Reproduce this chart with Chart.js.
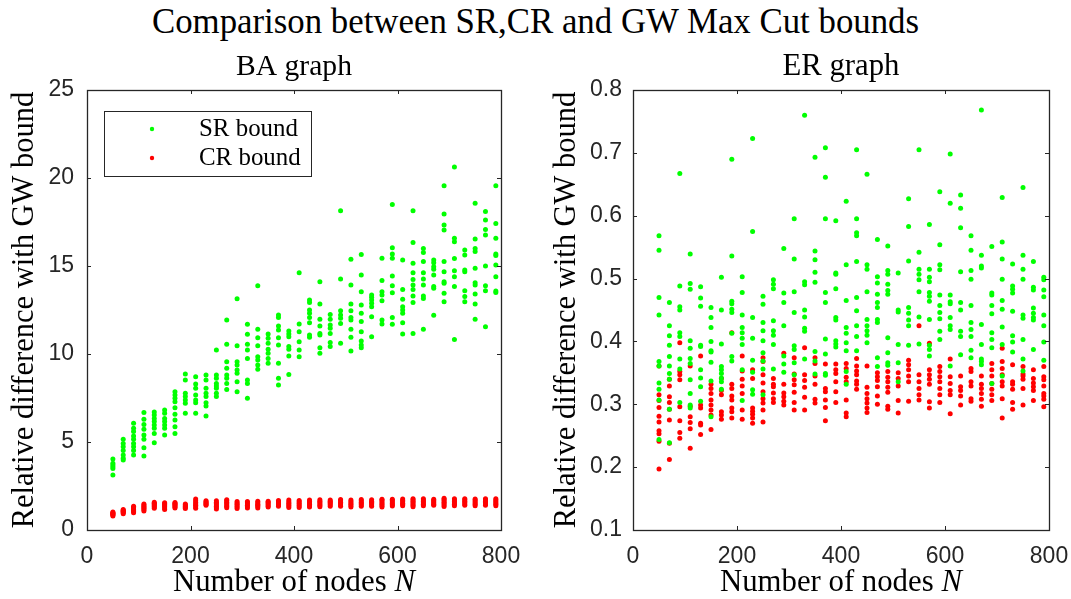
<!DOCTYPE html>
<html>
<head>
<meta charset="utf-8">
<script src="https://cdn.jsdelivr.net/npm/chart.js@4.4.1/dist/chart.umd.min.js"></script>
<style>
  body { margin: 0; background: #fff; width: 1071px; height: 599px; overflow: hidden; position: relative; }
  #titulo { position: absolute; left: 0; top: 0; width: 1071px; height: 44px; line-height: 44px; text-align: center; color: #000; white-space: nowrap; }
  canvas { position: absolute; top: 0; }
</style>
</head>
<body>
<div id="titulo">Comparison between SR,CR and GW Max Cut bounds</div>
<canvas id="ba" width="540" height="599" style="left:0px"></canvas>
<canvas id="er" width="531" height="599" style="left:540px"></canvas>
<script>
// Número de nodos N (una columna de puntos por cada valor)
const nodos = [50, 70, 90, 110, 130, 150, 170, 190, 210, 230, 250, 270, 290, 310, 330, 350, 370, 390, 410,
  430, 450, 470, 490, 510, 530, 550, 570, 590, 610, 630, 650, 670, 690, 710, 730, 750, 770, 790];

const ticksN = [0, 200, 400, 600, 800];
const ticksBA = [0, 5, 10, 15, 20, 25];
const ticksER = [0.1, 0.2, 0.3, 0.4, 0.5, 0.6, 0.7, 0.8];

// BA graph - SR bound
const baSR = [
  [4.03, 3.79, 3.70, 3.60, 3.50, 3.12],
  [5.15, 4.92, 4.73, 4.51, 4.26, 4.07, 3.98],
  [6.06, 5.78, 5.59, 5.34, 5.15, 4.92, 4.73, 4.51, 4.26],
  [6.67, 6.29, 6.00, 5.72, 5.40, 5.15, 4.68, 4.20],
  [6.70, 6.53, 6.34, 6.16, 5.97, 5.78, 5.49, 4.96],
  [6.82, 6.63, 6.34, 6.16, 5.97, 5.78, 5.40],
  [7.86, 7.67, 7.48, 7.29, 6.95, 6.57, 6.25, 5.87, 5.49],
  [8.86, 8.52, 7.77, 7.58, 7.39, 7.20, 6.63],
  [8.71, 8.30, 8.05, 7.67, 7.39, 7.23, 6.63],
  [8.81, 8.52, 8.05, 7.77, 7.58, 7.23, 7.05, 6.48],
  [10.23, 8.81, 8.62, 8.33, 8.18, 8.05, 7.77, 7.58],
  [11.93, 10.55, 9.56, 9.19, 8.81, 8.62, 8.33, 7.99],
  [13.14, 10.47, 9.56, 9.38, 9.09, 8.90, 8.43, 7.86],
  [11.69, 11.12, 10.55, 10.23, 9.75, 8.52, 8.33, 7.48],
  [13.88, 11.40, 10.93, 10.47, 9.85, 9.66, 9.38, 9.13],
  [11.14, 10.89, 10.61, 10.27, 10.04, 9.75, 9.47],
  [12.22, 12.08, 11.59, 11.36, 10.93, 10.51, 9.47, 8.62, 8.24],
  [11.31, 11.14, 10.98, 10.42, 10.27, 9.89, 8.84],
  [14.62, 11.70, 11.27, 10.70, 10.23, 9.85],
  [13.07, 12.92, 12.50, 12.31, 12.08, 11.78, 11.08, 10.95],
  [14.11, 12.84, 11.97, 11.59, 11.17, 11.08, 10.36, 10.04],
  [12.25, 11.97, 11.65, 11.46, 11.17, 10.66, 10.42],
  [18.14, 14.26, 12.46, 12.22, 12.03, 11.74, 10.61],
  [15.38, 13.92, 12.84, 12.46, 12.08, 11.93, 11.40, 10.95, 10.17],
  [15.66, 14.49, 13.54, 12.78, 12.31, 11.84, 11.27, 10.74, 10.51, 10.36],
  [13.35, 13.22, 13.07, 12.88, 12.69, 12.12, 10.98],
  [15.44, 14.17, 13.54, 13.35, 13.03, 11.93, 11.70],
  [18.50, 16.04, 15.68, 15.44, 14.43, 13.88, 13.48, 12.08, 11.69],
  [15.34, 13.67, 13.11, 12.69, 12.50, 12.31, 11.78, 11.14],
  [18.14, 16.34, 15.15, 14.62, 14.24, 13.92, 13.67, 13.30, 12.92, 11.17],
  [16.00, 15.76, 15.25, 14.62, 14.26, 13.92, 13.30, 13.16, 11.40],
  [15.34, 15.19, 14.96, 14.81, 14.49, 13.83, 13.73, 12.20],
  [19.56, 17.95, 17.33, 17.05, 15.25, 14.68, 14.11, 14.02, 13.45, 12.97],
  [20.63, 16.57, 16.38, 15.42, 14.73, 14.39, 13.83, 10.83],
  [15.91, 15.63, 14.77, 14.68, 13.60, 13.26, 12.97],
  [18.56, 16.53, 16.00, 15.83, 14.87, 14.05, 13.92, 13.41, 12.84, 11.97],
  [18.09, 17.61, 17.08, 16.76, 15.00, 13.88, 13.60, 11.55],
  [19.56, 17.42, 16.57, 15.68, 15.59, 15.06, 14.39, 13.58, 13.50]
];

// BA graph - CR bound
const baCR = [
  [0.80, 0.85, 0.88, 0.92, 0.95, 0.98, 1.02],
  [0.93, 0.98, 1.02, 1.05, 1.08, 1.12, 1.16],
  [0.98, 1.05, 1.10, 1.15, 1.20, 1.28, 1.35],
  [1.08, 1.15, 1.22, 1.28, 1.35, 1.42, 1.48],
  [1.23, 1.30, 1.36, 1.42, 1.48, 1.52, 1.57],
  [1.17, 1.25, 1.32, 1.38, 1.45, 1.50, 1.55],
  [1.25, 1.30, 1.36, 1.42, 1.47, 1.52, 1.56],
  [1.22, 1.28, 1.33, 1.38, 1.43, 1.48],
  [1.23, 1.32, 1.40, 1.48, 1.56, 1.66, 1.76],
  [1.40, 1.45, 1.50, 1.55, 1.60, 1.66],
  [1.20, 1.27, 1.35, 1.42, 1.50, 1.58, 1.66],
  [1.27, 1.35, 1.42, 1.50, 1.58, 1.66, 1.72],
  [1.22, 1.30, 1.38, 1.46, 1.54, 1.62],
  [1.25, 1.32, 1.40, 1.48, 1.55, 1.62],
  [1.25, 1.33, 1.40, 1.47, 1.55, 1.63],
  [1.30, 1.37, 1.44, 1.50, 1.57, 1.64],
  [1.35, 1.42, 1.48, 1.54, 1.60, 1.68],
  [1.28, 1.36, 1.44, 1.52, 1.60, 1.70],
  [1.28, 1.36, 1.44, 1.52, 1.60, 1.68],
  [1.30, 1.38, 1.46, 1.54, 1.62, 1.70],
  [1.32, 1.40, 1.48, 1.56, 1.64, 1.72],
  [1.35, 1.43, 1.50, 1.57, 1.64, 1.70],
  [1.35, 1.42, 1.50, 1.58, 1.66, 1.74],
  [1.30, 1.38, 1.46, 1.54, 1.62, 1.70],
  [1.35, 1.43, 1.50, 1.58, 1.66, 1.73],
  [1.35, 1.42, 1.50, 1.57, 1.64, 1.72],
  [1.30, 1.38, 1.46, 1.54, 1.62, 1.70, 1.75],
  [1.36, 1.43, 1.51, 1.59, 1.67, 1.75],
  [1.38, 1.45, 1.52, 1.60, 1.68, 1.76],
  [1.32, 1.40, 1.48, 1.56, 1.64, 1.72, 1.78],
  [1.38, 1.46, 1.54, 1.62, 1.70, 1.77],
  [1.40, 1.47, 1.54, 1.61, 1.68, 1.75],
  [1.34, 1.42, 1.50, 1.58, 1.66, 1.74, 1.80],
  [1.38, 1.46, 1.54, 1.62, 1.70, 1.78],
  [1.40, 1.48, 1.56, 1.64, 1.72, 1.78],
  [1.38, 1.46, 1.54, 1.62, 1.70, 1.76],
  [1.40, 1.48, 1.56, 1.64, 1.72, 1.78],
  [1.38, 1.46, 1.54, 1.62, 1.70, 1.78]
];

// ER graph - SR bound
const erSR = [
  [0.568, 0.545, 0.470, 0.442, 0.368, 0.361, 0.334, 0.324, 0.307, 0.244],
  [0.462, 0.425, 0.409, 0.394, 0.376, 0.361, 0.349, 0.340, 0.292, 0.239],
  [0.667, 0.488, 0.455, 0.450, 0.414, 0.408, 0.372, 0.356, 0.303],
  [0.539, 0.492, 0.483, 0.401, 0.389, 0.373, 0.365, 0.339, 0.317, 0.299, 0.294],
  [0.487, 0.469, 0.456, 0.394, 0.392, 0.355, 0.342, 0.328, 0.305],
  [0.454, 0.438, 0.422, 0.400, 0.385, 0.383, 0.367, 0.337, 0.280],
  [0.502, 0.450, 0.396, 0.360, 0.355, 0.349, 0.342, 0.336, 0.324],
  [0.690, 0.536, 0.464, 0.460, 0.451, 0.446, 0.413, 0.376, 0.369],
  [0.503, 0.478, 0.442, 0.422, 0.414, 0.405, 0.395, 0.355, 0.306],
  [0.723, 0.575, 0.438, 0.405, 0.370, 0.351, 0.323, 0.316],
  [0.472, 0.459, 0.430, 0.417, 0.401, 0.382, 0.369, 0.356, 0.315],
  [0.498, 0.491, 0.484, 0.433, 0.417, 0.410, 0.395, 0.356],
  [0.548, 0.477, 0.462, 0.425, 0.377, 0.364, 0.351],
  [0.595, 0.531, 0.479, 0.446, 0.393, 0.387, 0.366, 0.347],
  [0.760, 0.495, 0.490, 0.450, 0.439, 0.421, 0.416, 0.372],
  [0.693, 0.544, 0.530, 0.510, 0.494, 0.384, 0.369, 0.348],
  [0.708, 0.661, 0.595, 0.478, 0.462, 0.404, 0.380, 0.349, 0.346],
  [0.592, 0.509, 0.507, 0.484, 0.438, 0.434, 0.401, 0.396, 0.391],
  [0.623, 0.522, 0.465, 0.422, 0.413, 0.398, 0.385, 0.352, 0.332],
  [0.705, 0.595, 0.573, 0.568, 0.527, 0.470, 0.449, 0.425, 0.408, 0.385],
  [0.666, 0.522, 0.515, 0.479, 0.435, 0.425, 0.417, 0.410, 0.398],
  [0.562, 0.503, 0.493, 0.475, 0.462, 0.454, 0.435, 0.430, 0.374, 0.360],
  [0.552, 0.513, 0.507, 0.491, 0.481, 0.475, 0.406, 0.382, 0.366, 0.362],
  [0.509, 0.450, 0.447, 0.395, 0.366, 0.336],
  [0.627, 0.583, 0.528, 0.454, 0.445, 0.434, 0.425, 0.394],
  [0.705, 0.542, 0.515, 0.507, 0.498, 0.479, 0.439, 0.396],
  [0.586, 0.515, 0.502, 0.495, 0.478, 0.472, 0.464, 0.435, 0.394, 0.387, 0.377],
  [0.638, 0.554, 0.522, 0.514, 0.474, 0.457, 0.446, 0.436, 0.416, 0.403],
  [0.698, 0.620, 0.474, 0.463, 0.460, 0.438, 0.425, 0.419, 0.361],
  [0.633, 0.612, 0.581, 0.511, 0.462, 0.450, 0.416, 0.408, 0.379],
  [0.568, 0.545, 0.513, 0.499, 0.457, 0.430, 0.419, 0.408, 0.386, 0.374],
  [0.768, 0.537, 0.520, 0.517, 0.427, 0.395, 0.372, 0.368, 0.363],
  [0.551, 0.477, 0.474, 0.457, 0.444, 0.414, 0.403, 0.390, 0.333],
  [0.629, 0.558, 0.531, 0.499, 0.465, 0.451, 0.423, 0.395, 0.345],
  [0.523, 0.488, 0.483, 0.477, 0.448, 0.409, 0.399, 0.383],
  [0.645, 0.537, 0.515, 0.499, 0.442, 0.437, 0.403, 0.372, 0.353],
  [0.527, 0.486, 0.482, 0.453, 0.445, 0.438, 0.434, 0.387],
  [0.502, 0.498, 0.482, 0.471, 0.442, 0.425, 0.399, 0.370]
];

// ER graph - CR bound
const erCR = [
  [0.361, 0.315, 0.306, 0.295, 0.281, 0.272, 0.258, 0.253, 0.241, 0.197],
  [0.340, 0.329, 0.312, 0.303, 0.292, 0.275, 0.238, 0.212],
  [0.398, 0.352, 0.347, 0.339, 0.296, 0.274, 0.255, 0.246],
  [0.361, 0.297, 0.280, 0.271, 0.261, 0.230],
  [0.377, 0.299, 0.294, 0.270, 0.267, 0.252],
  [0.332, 0.325, 0.317, 0.307, 0.299, 0.291, 0.283, 0.260],
  [0.341, 0.322, 0.315, 0.288, 0.283, 0.276],
  [0.414, 0.332, 0.325, 0.313, 0.307, 0.294, 0.288, 0.278],
  [0.377, 0.353, 0.340, 0.329, 0.317, 0.291, 0.276],
  [0.355, 0.341, 0.294, 0.289, 0.284, 0.278, 0.270],
  [0.374, 0.368, 0.347, 0.334, 0.320, 0.309, 0.302, 0.291, 0.272],
  [0.341, 0.332, 0.328, 0.318, 0.309, 0.303],
  [0.381, 0.332, 0.318, 0.312, 0.305, 0.299],
  [0.374, 0.348, 0.339, 0.331, 0.319, 0.303, 0.291],
  [0.390, 0.347, 0.338, 0.327, 0.311, 0.291],
  [0.374, 0.365, 0.345, 0.332, 0.308, 0.302],
  [0.364, 0.325, 0.320, 0.307, 0.295, 0.274],
  [0.364, 0.355, 0.349, 0.336, 0.320, 0.303],
  [0.365, 0.357, 0.343, 0.336, 0.307, 0.286, 0.280],
  [0.373, 0.361, 0.353, 0.347, 0.337, 0.332, 0.324],
  [0.361, 0.327, 0.317, 0.309, 0.302, 0.294, 0.287],
  [0.350, 0.344, 0.338, 0.328, 0.313, 0.300],
  [0.352, 0.343, 0.336, 0.327, 0.319, 0.297, 0.292],
  [0.350, 0.341, 0.329, 0.306, 0.286],
  [0.370, 0.363, 0.355, 0.345, 0.336, 0.305],
  [0.425, 0.347, 0.336, 0.325, 0.315, 0.307],
  [0.397, 0.355, 0.347, 0.340, 0.332, 0.304, 0.294],
  [0.360, 0.352, 0.344, 0.336, 0.325, 0.315, 0.303],
  [0.372, 0.344, 0.333, 0.322, 0.315, 0.285],
  [0.345, 0.328, 0.322, 0.313, 0.299],
  [0.357, 0.352, 0.336, 0.329, 0.309, 0.305],
  [0.345, 0.332, 0.325, 0.317, 0.308, 0.297],
  [0.365, 0.355, 0.345, 0.333, 0.324, 0.315, 0.306],
  [0.389, 0.368, 0.357, 0.347, 0.336, 0.329, 0.309, 0.278],
  [0.363, 0.336, 0.332, 0.324, 0.303, 0.292],
  [0.360, 0.348, 0.345, 0.340, 0.325, 0.299],
  [0.355, 0.341, 0.334, 0.328, 0.322, 0.306],
  [0.360, 0.344, 0.339, 0.329, 0.317, 0.313, 0.308, 0.296]
];

const VERDE = '#00ff00';
const ROJO = '#ff0000';
const EJE = '#262626';
const SERIF = "'Liberation Serif', 'DejaVu Serif', serif";
const SANS = "'Liberation Sans', Arial, sans-serif";

// convierte las columnas en puntos {x, y}
function puntos(serie) {
  const salida = [];
  serie.forEach((columna, i) => columna.forEach(v => salida.push({ x: nodos[i], y: v })));
  return salida;
}

// tamaño de letra para que el texto ocupe un ancho dado
function ajustarFuente(ctx, texto, estilo, ancho) {
  ctx.font = `${estilo} 100px ${SERIF}`;
  return 100 * ancho / ctx.measureText(texto).width;
}

// caja y marcas hacia dentro en los cuatro lados (estilo MATLAB)
const marco = {
  id: 'marco',
  afterDatasetsDraw(chart) {
    const { ctx, chartArea: a, scales } = chart;
    const L = 4;
    ctx.save();
    ctx.strokeStyle = EJE;
    ctx.lineWidth = 1;
    ctx.beginPath();
    scales.x.ticks.forEach(t => {
      const px = Math.round(scales.x.getPixelForValue(t.value)) + 0.5;
      ctx.moveTo(px, a.bottom); ctx.lineTo(px, a.bottom - L);
      ctx.moveTo(px, a.top); ctx.lineTo(px, a.top + L);
    });
    scales.y.ticks.forEach(t => {
      const py = Math.round(scales.y.getPixelForValue(t.value)) + 0.5;
      ctx.moveTo(a.left, py); ctx.lineTo(a.left + L, py);
      ctx.moveTo(a.right, py); ctx.lineTo(a.right - L, py);
    });
    ctx.stroke();
    ctx.lineWidth = 1.3;
    ctx.strokeRect(Math.round(a.left) + 0.5, Math.round(a.top) + 0.5,
      Math.round(a.right - a.left), Math.round(a.bottom - a.top));
    ctx.restore();
  }
};

// títulos y etiquetas de los ejes
const textos = {
  id: 'textos',
  afterDraw(chart, args, o) {
    const { ctx, chartArea: a } = chart;
    const cx = (a.left + a.right) / 2;
    const cy = (a.top + a.bottom) / 2;
    ctx.save();
    ctx.fillStyle = '#000';
    ctx.textBaseline = 'middle';

    // título del subgráfico
    let s = ajustarFuente(ctx, o.titulo, 'normal', o.anchoTitulo);
    ctx.font = `${s}px ${SERIF}`;
    ctx.textAlign = 'center';
    ctx.fillText(o.titulo, cx, a.top - 23);

    // eje x: "Number of nodes N" con la N en cursiva
    const base = 'Number of nodes ';
    const variable = 'N';
    ctx.font = `100px ${SERIF}`;
    const w1 = ctx.measureText(base).width;
    ctx.font = `italic 100px ${SERIF}`;
    const w2 = ctx.measureText(variable).width;
    s = 100 * o.anchoX / (w1 + w2);
    const x0 = cx - o.anchoX / 2;
    ctx.textAlign = 'left';
    ctx.font = `${s}px ${SERIF}`;
    ctx.fillText(base, x0, a.bottom + 53);
    ctx.font = `italic ${s}px ${SERIF}`;
    ctx.fillText(variable, x0 + w1 * s / 100, a.bottom + 53);

    // eje y (texto girado)
    s = ajustarFuente(ctx, o.etiquetaY, 'normal', o.anchoY);
    ctx.translate(o.xEtiquetaY, cy);
    ctx.rotate(-Math.PI / 2);
    ctx.textAlign = 'center';
    ctx.font = `${s}px ${SERIF}`;
    ctx.fillText(o.etiquetaY, 0, 0);
    ctx.restore();
  }
};

// leyenda con caja, sólo en el gráfico BA
const leyenda = {
  id: 'leyenda',
  afterDraw(chart, args, o) {
    if (!o.mostrar) return;
    const { ctx, chartArea: a } = chart;
    const x = a.left + 17, y = a.top + 21, w = 207, h = 65;
    ctx.save();
    ctx.fillStyle = '#fff';
    ctx.fillRect(x, y, w, h);
    ctx.strokeStyle = EJE;
    ctx.lineWidth = 1;
    ctx.strokeRect(x + 0.5, y + 0.5, w, h);
    const s = ajustarFuente(ctx, 'SR bound', 'normal', 99);
    chart.data.datasets.forEach((ds, i) => {
      const yy = y + 18 + i * 29;
      ctx.fillStyle = ds.backgroundColor;
      ctx.beginPath();
      ctx.arc(x + 48, yy, 2.2, 0, 2 * Math.PI);
      ctx.fill();
      ctx.fillStyle = '#000';
      ctx.font = `${s}px ${SERIF}`;
      ctx.textAlign = 'left';
      ctx.textBaseline = 'middle';
      ctx.fillText(ds.label, x + 95, yy);
    });
    ctx.restore();
  }
};

function crearGrafico(id, sr, cr, ticksY, op) {
  return new Chart(document.getElementById(id), {
    type: 'scatter',
    data: {
      datasets: [
        { label: 'SR bound', data: puntos(sr), backgroundColor: VERDE },
        { label: 'CR bound', data: puntos(cr), backgroundColor: ROJO }
      ]
    },
    options: {
      responsive: false,
      animation: false,
      events: [],
      layout: { padding: { top: 90, right: op.derecha, left: 0, bottom: 0 } },
      elements: { point: { radius: 2.5, borderWidth: 0, hoverRadius: 2.5 } },
      plugins: {
        legend: { display: false },
        tooltip: { enabled: false },
        textos: {
          titulo: op.titulo, anchoTitulo: op.anchoTitulo,
          anchoX: 242,
          etiquetaY: 'Relative difference with GW bound', anchoY: 437, xEtiquetaY: op.xEtiquetaY
        },
        leyenda: { mostrar: op.leyenda }
      },
      scales: {
        x: {
          type: 'linear',
          min: ticksN[0],
          max: ticksN[ticksN.length - 1],
          grid: { display: false, drawTicks: false },
          border: { display: false },
          ticks: { font: { family: SANS, size: 23 }, color: EJE, padding: 13, maxRotation: 0 },
          afterBuildTicks: s => { s.ticks = ticksN.map(v => ({ value: v })); },
          // sin márgenes extra para que el área del gráfico quede fija
          afterFit: s => { s.height = 69; s.paddingLeft = 0; s.paddingRight = 0; }
        },
        y: {
          min: ticksY[0],
          max: ticksY[ticksY.length - 1],
          grid: { display: false, drawTicks: false },
          border: { display: false },
          ticks: { font: { family: SANS, size: 23 }, color: EJE, padding: op.padY, callback: op.formato },
          afterBuildTicks: s => { s.ticks = ticksY.map(v => ({ value: v })); },
          afterFit: s => { s.width = op.anchoEjeY; s.paddingTop = 0; s.paddingBottom = 0; }
        }
      }
    },
    plugins: [marco, textos, leyenda]
  });
}

// título general
const titulo = document.getElementById('titulo');
const medidor = document.createElement('canvas').getContext('2d');
titulo.style.fontFamily = SERIF;
titulo.style.fontSize = ajustarFuente(medidor, titulo.textContent, 'normal', 768) + 'px';

crearGrafico('ba', baSR, baCR, ticksBA, {
  titulo: 'BA graph', anchoTitulo: 116, derecha: 39, anchoEjeY: 87, padY: 13,
  xEtiquetaY: 25, leyenda: true, formato: v => String(v)
});

crearGrafico('er', erSR, erCR, ticksER, {
  titulo: 'ER graph', anchoTitulo: 117, derecha: 22, anchoEjeY: 93, padY: 11,
  xEtiquetaY: 27, leyenda: false, formato: v => v.toFixed(1)
});
</script>
</body>
</html>
